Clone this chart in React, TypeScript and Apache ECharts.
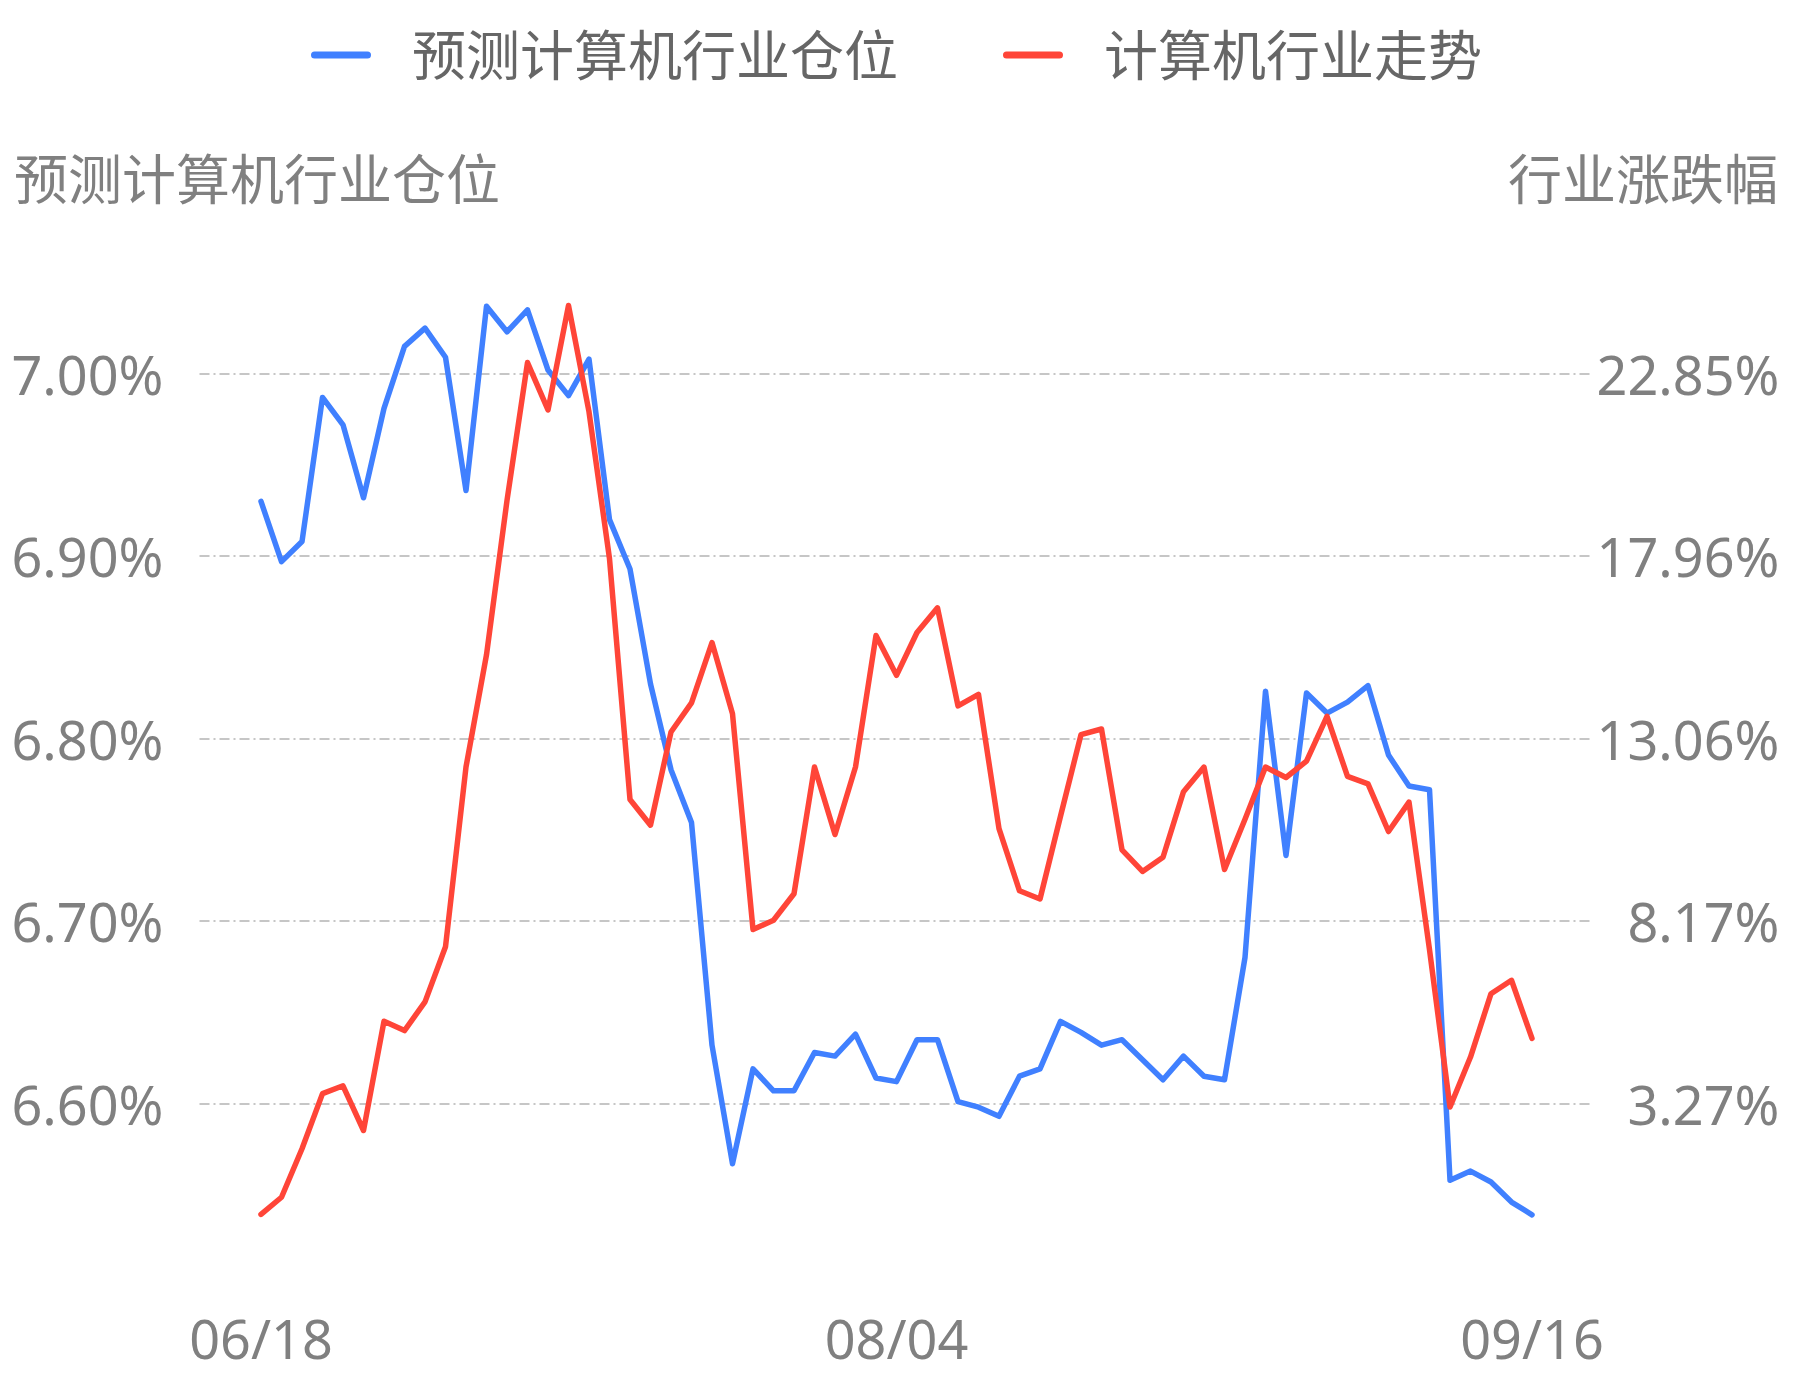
import React, { useEffect, useRef } from "react";
import * as echarts from "echarts";

// ---- Data ----
const dates = [
  "06/18", "06/19", "06/22", "06/23", "06/24", "06/29", "06/30", "07/01", "07/02", "07/03",
  "07/06", "07/07", "07/08", "07/09", "07/10", "07/13", "07/14", "07/15", "07/16", "07/17",
  "07/20", "07/21", "07/22", "07/23", "07/24", "07/27", "07/28", "07/29", "07/30", "07/31",
  "08/03", "08/04", "08/05", "08/06", "08/07", "08/10", "08/11", "08/12", "08/13", "08/14",
  "08/17", "08/18", "08/19", "08/20", "08/21", "08/24", "08/25", "08/26", "08/27", "08/28",
  "08/31", "09/01", "09/02", "09/03", "09/04", "09/07", "09/08", "09/09", "09/10", "09/11",
  "09/14", "09/15", "09/16",
];

// 预测计算机行业仓位 (%), left axis
const positionValues = [
  6.93, 6.897, 6.908, 6.987, 6.972, 6.932, 6.981, 7.015, 7.025, 7.009,
  6.936, 7.037, 7.023, 7.035, 7.002, 6.988, 7.008, 6.92, 6.893, 6.83,
  6.783, 6.754, 6.632, 6.567, 6.619, 6.607, 6.607, 6.628, 6.626, 6.638,
  6.614, 6.612, 6.635, 6.635, 6.601, 6.598, 6.593, 6.615, 6.619, 6.645,
  6.639, 6.632, 6.635, 6.624, 6.613, 6.626, 6.615, 6.613, 6.68, 6.826,
  6.736, 6.825, 6.814, 6.82, 6.829, 6.791, 6.774, 6.772, 6.558, 6.563,
  6.557, 6.546, 6.539,
];

// 计算机行业走势 (%), right axis
const trendValues = [
  0.3, 0.76, 2.06, 3.54, 3.75, 2.55, 5.48, 5.23, 6.0, 7.48,
  12.3, 15.31, 19.45, 23.15, 21.88, 24.68, 21.83, 17.89, 11.43, 10.74,
  13.24, 14.02, 15.64, 13.73, 7.94, 8.19, 8.9, 12.3, 10.49, 12.3,
  15.83, 14.76, 15.91, 16.57, 13.94, 14.25, 10.65, 8.98, 8.76, 10.98,
  13.17, 13.32, 10.08, 9.5, 9.88, 11.64, 12.3, 9.55, 10.9, 12.3,
  12.02, 12.46, 13.66, 12.05, 11.85, 10.57, 11.36, 7.4, 3.18, 4.52,
  6.22, 6.58, 5.02,
];

const seriesNames = ["预测计算机行业仓位", "计算机行业走势"];
const axisNames = ["预测计算机行业仓位", "行业涨跌幅"];
const labelIndices = [0, 31, 62];

// axis scales
const LEFT_MIN = 6.5;
const LEFT_MAX = 7.09;
const LEFT_INTERVAL = 0.1;
const RIGHT_INTERVAL = 4.8944;
const RIGHT_MIN = 3.2735 - RIGHT_INTERVAL;
const RIGHT_MAX = 22.8511 + 0.9 * RIGHT_INTERVAL;

const FONT = "'Noto Sans', 'Noto Sans CJK SC', sans-serif";
const BLUE = "#4080ff";
const RED = "#ff4538";
const LABEL_COLOR = "#808080";

export default function App() {
  const ref = useRef<HTMLDivElement>(null);

  useEffect(() => {
    if (!ref.current) return;
    const chart = echarts.init(ref.current, null, { renderer: "svg" });
    const pct = (v: number) => v.toFixed(2) + "%";
    chart.setOption({
      animation: false,
      backgroundColor: "#ffffff",
      title: [
        {
          text: axisNames[0],
          left: 14,
          top: 152,
          padding: 0,
          textStyle: { fontSize: 54, fontWeight: "normal", color: LABEL_COLOR, fontFamily: FONT },
        },
        {
          text: axisNames[1],
          right: 15,
          top: 152,
          padding: 0,
          textStyle: { fontSize: 54, fontWeight: "normal", color: LABEL_COLOR, fontFamily: FONT },
        },
      ],
      legend: {
        data: seriesNames,
        top: 28,
        left: "center",
        padding: 0,
        itemWidth: 60,
        itemHeight: 7,
        itemGap: 105,
        icon: "path://M3.5,0L56.5,0A3.5,3.5,0,0,1,56.5,7L3.5,7A3.5,3.5,0,0,1,3.5,0Z",
        textStyle: { fontSize: 54, color: "#666666", fontFamily: FONT, padding: [0, 0, 0, 36] },
      },
      grid: { left: 199.5, right: 199.5, top: 209.5, bottom: 94, containLabel: false },
      xAxis: {
        type: "category",
        data: dates,
        boundaryGap: false,
        min: -3,
        max: dates.length + 2,
        axisLine: { show: false },
        axisTick: { show: false },
        splitLine: { show: false },
        axisLabel: {
          interval: (index: number) => labelIndices.indexOf(index) >= 0,
          fontSize: 54,
          color: LABEL_COLOR,
          fontFamily: FONT,
          margin: 25,
        },
      },
      yAxis: [
        {
          type: "value",
          position: "left",
          min: LEFT_MIN,
          max: LEFT_MAX,
          interval: LEFT_INTERVAL,
          axisLine: { show: false },
          axisTick: { show: false },
          axisLabel: {
            formatter: pct,
            fontSize: 54,
            color: LABEL_COLOR,
            fontFamily: FONT,
            margin: 36,
            showMinLabel: false,
            showMaxLabel: false,
          },
          splitLine: {
            show: true,
            showMinLine: false,
            showMaxLine: false,
            lineStyle: { color: "#c6c6c6", width: 2, type: [10, 4, 2, 4] },
          },
        },
        {
          type: "value",
          position: "right",
          min: RIGHT_MIN,
          max: RIGHT_MAX,
          interval: RIGHT_INTERVAL,
          axisLine: { show: false },
          axisTick: { show: false },
          axisLabel: {
            formatter: pct,
            fontSize: 54,
            color: LABEL_COLOR,
            fontFamily: FONT,
            align: "right",
            margin: 186,
            showMinLabel: false,
            showMaxLabel: false,
          },
          splitLine: { show: false },
        },
      ],
      series: [
        {
          name: seriesNames[0],
          type: "line",
          data: positionValues,
          yAxisIndex: 0,
          symbol: "none",
          lineStyle: { width: 5.5, color: BLUE, join: "round", cap: "round" },
          itemStyle: { color: BLUE },
        },
        {
          name: seriesNames[1],
          type: "line",
          data: trendValues,
          yAxisIndex: 1,
          symbol: "none",
          lineStyle: { width: 5.5, color: RED, join: "round", cap: "round" },
          itemStyle: { color: RED },
        },
      ],
    });
    return () => chart.dispose();
  }, []);

  return (
    <div
      ref={ref}
      style={{ position: "absolute", left: 0, top: 0, width: 1793, height: 1380, background: "#fff" }}
    />
  );
}
